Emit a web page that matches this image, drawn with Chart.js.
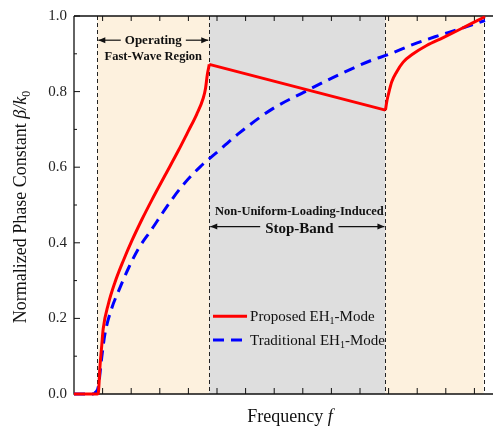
<!DOCTYPE html>
<html>
<head>
<meta charset="utf-8">
<script src="https://cdn.jsdelivr.net/npm/chart.js@4.4.1/dist/chart.umd.min.js"></script>
<style>
  html, body { margin: 0; padding: 0; background: #ffffff; }
  #c { display: block; }
</style>
</head>
<body>
<canvas id="c" width="493" height="434"></canvas>
<script>
// ---------------- data ----------------
const redFreq  = [0, 0.82, 0.85, 0.91, 0.97, 1.02, 1.20, 1.43, 1.72, 2.02, 2.37, 2.72, 3.18, 3.65, 4.00, 4.29, 4.52, 4.60, 4.66, 4.73, 10.89, 10.94, 10.99, 11.11, 11.28, 11.51, 11.86, 12.33, 12.91, 13.50, 14.08, 14.37];
const redBeta  = [0, 0, 0.003, 0.075, 0.128, 0.172, 0.238, 0.295, 0.352, 0.405, 0.461, 0.513, 0.578, 0.644, 0.696, 0.740, 0.783, 0.809, 0.844, 0.872, 0.751, 0.775, 0.792, 0.826, 0.852, 0.878, 0.900, 0.922, 0.943, 0.965, 0.987, 0.998];
const blueFreq = [0, 0.66, 0.73, 0.85, 0.97, 1.08, 1.32, 1.55, 1.90, 2.25, 2.72, 3.24, 3.77, 4.41, 4.93, 5.74, 6.91, 8.08, 9.24, 10.41, 10.99, 11.86, 12.62, 13.46, 14.37];
const blueBeta = [0, 0, 0.003, 0.019, 0.097, 0.158, 0.227, 0.271, 0.332, 0.384, 0.436, 0.495, 0.549, 0.601, 0.635, 0.688, 0.753, 0.800, 0.844, 0.883, 0.898, 0.925, 0.945, 0.965, 0.988];
const seriesLabels = ['Proposed EH1-Mode', 'Traditional EH1-Mode'];
// region boundaries (frequency units): fast-wave | stop-band | fast-wave
const regionEdges = [0.815, 4.73, 10.89, 14.32];
const yTickValues = [0, 0.2, 0.4, 0.6, 0.8, 1.0];
const yMinorValues = [0.1, 0.3, 0.5, 0.7, 0.9];
const xTickValues = [1, 2, 3, 4, 5, 6, 7, 8, 9, 10, 11, 12, 13, 14];
const xMax = 14.65;

// ---------------- styling ----------------
const SERIF = '"Liberation Serif", "Times New Roman", serif';
const BEIGE = '#fdf1de';
const GRAY = '#dedede';
const RED = '#ff0000';
const BLUE = '#0000ff';
const BLUE_DASH = [11, 7];

function toPoints(xs, ys) { return xs.map((x, i) => ({ x: x, y: ys[i] })); }
const redPts = toPoints(redFreq, redBeta);
// split the proposed curve at its two kinks (band edges) so each smooth piece is interpolated on its own
const iPeak = redFreq.indexOf(regionEdges[1]);
const iMin = redFreq.indexOf(regionEdges[2]);
const redPieces = [
  { pts: redPts.slice(0, iPeak + 1), mode: 'monotone' },
  { pts: redPts.slice(iPeak, iMin + 1), mode: 'linear' },
  { pts: redPts.slice(iMin), mode: 'monotone' }
];

function drawArrow(ctx, x1, x2, y, headAtStart) {
  ctx.save();
  ctx.strokeStyle = '#111';
  ctx.fillStyle = '#111';
  ctx.lineWidth = 1.2;
  ctx.beginPath();
  ctx.moveTo(x1, y); ctx.lineTo(x2, y); ctx.stroke();
  const tip = headAtStart ? x1 : x2;
  const dir = headAtStart ? 1 : -1;
  ctx.beginPath();
  ctx.moveTo(tip, y);
  ctx.lineTo(tip + dir * 7, y - 3);
  ctx.lineTo(tip + dir * 7, y + 3);
  ctx.closePath();
  ctx.fill();
  ctx.restore();
}

function drawSubText(ctx, x, baseY, parts) {
  let cx = x;
  parts.forEach(p => {
    ctx.font = p.font;
    ctx.fillText(p.t, cx, baseY + (p.dy || 0));
    cx += ctx.measureText(p.t).width;
  });
  return cx;
}
function measureParts(ctx, parts) {
  let w = 0;
  parts.forEach(p => { ctx.font = p.font; w += ctx.measureText(p.t).width; });
  return w;
}

const decorPlugin = {
  id: 'decor',
  beforeDatasetsDraw(chart) {
    const ctx = chart.ctx;
    const a = chart.chartArea;
    const xs = chart.scales.x, ys = chart.scales.y;
    const px = v => xs.getPixelForValue(v);
    const py = v => ys.getPixelForValue(v);
    ctx.save();
    const fills = [BEIGE, GRAY, BEIGE];
    for (let i = 0; i < 3; i++) {
      ctx.fillStyle = fills[i];
      ctx.fillRect(px(regionEdges[i]), a.top, px(regionEdges[i + 1]) - px(regionEdges[i]), a.bottom - a.top);
    }
    ctx.strokeStyle = '#222';
    ctx.lineWidth = 1;
    ctx.setLineDash([4, 3]);
    regionEdges.forEach(e => {
      const x = Math.round(px(e)) + 0.5;
      ctx.beginPath(); ctx.moveTo(x, a.top); ctx.lineTo(x, a.bottom); ctx.stroke();
    });
    ctx.setLineDash([]);
    ctx.strokeStyle = '#111';
    ctx.lineWidth = 1.3;
    ctx.beginPath();
    ctx.moveTo(a.left, a.top); ctx.lineTo(a.left, a.bottom); ctx.lineTo(a.right, a.bottom);
    ctx.moveTo(a.left, a.top); ctx.lineTo(a.right, a.top);
    ctx.stroke();
    ctx.lineWidth = 1;
    ctx.beginPath();
    yTickValues.forEach(v => { const y = py(v); ctx.moveTo(a.left, y); ctx.lineTo(a.left + 6, y); });
    yMinorValues.forEach(v => { const y = py(v); ctx.moveTo(a.left, y); ctx.lineTo(a.left + 3, y); });
    xTickValues.forEach(v => {
      const x = px(v);
      ctx.moveTo(x, a.bottom); ctx.lineTo(x, a.bottom - 6);
      ctx.moveTo(x, a.top); ctx.lineTo(x, a.top + 5);
    });
    ctx.stroke();
    ctx.restore();
  },
  afterDatasetsDraw(chart) {
    const ctx = chart.ctx;
    const a = chart.chartArea;
    const xs = chart.scales.x, ys = chart.scales.y;
    const px = v => xs.getPixelForValue(v);
    const py = v => ys.getPixelForValue(v);
    ctx.save();
    ctx.fillStyle = '#111';
    ctx.textBaseline = 'alphabetic';

    // --- Operating Fast-Wave Region ---
    const r1L = px(regionEdges[0]), r1R = px(regionEdges[1]);
    const c1 = (r1L + r1R) / 2;
    ctx.font = 'bold 13px ' + SERIF;
    ctx.textAlign = 'center';
    ctx.fillText('Operating', c1, py(0.925));
    const w1 = ctx.measureText('Operating').width;
    drawArrow(ctx, r1L + 1, c1 - w1 / 2 - 4, py(0.936), true);
    drawArrow(ctx, c1 + w1 / 2 + 4, r1R - 1, py(0.936), false);
    ctx.fillStyle = '#111';
    ctx.font = 'bold 12.5px ' + SERIF;
    ctx.fillText('Fast-Wave Region', c1, py(0.883));

    // --- Stop-band ---
    const r2L = px(regionEdges[1]), r2R = px(regionEdges[2]);
    const c2 = (r2L + r2R) / 2 + 2;
    ctx.font = 'bold 12.5px ' + SERIF;
    ctx.fillText('Non-Uniform-Loading-Induced', c2, py(0.474));
    ctx.font = 'bold 15px ' + SERIF;
    ctx.fillText('Stop-Band', c2, py(0.427));
    const w2 = ctx.measureText('Stop-Band').width;
    drawArrow(ctx, r2L + 1, c2 - w2 / 2 - 5, py(0.443), true);
    drawArrow(ctx, c2 + w2 / 2 + 5, r2R - 1, py(0.443), false);

    // --- legend ---
    const lx0 = px(4.86), lx1 = px(6.05);
    const rows = [
      { y: py(0.206), color: RED, dash: [], label: seriesLabels[0] },
      { y: py(0.143), color: BLUE, dash: BLUE_DASH, label: seriesLabels[1] }
    ];
    ctx.textAlign = 'left';
    rows.forEach(r => {
      ctx.save();
      ctx.strokeStyle = r.color; ctx.lineWidth = 3; ctx.setLineDash(r.dash);
      ctx.beginPath(); ctx.moveTo(lx0, r.y); ctx.lineTo(lx1, r.y); ctx.stroke();
      ctx.restore();
      ctx.fillStyle = '#111';
      const base = r.label.replace('EH1-Mode', '');
      drawSubText(ctx, lx1 + 3, r.y + 5, [
        { t: base + 'EH', font: '15px ' + SERIF },
        { t: '1', font: '10px ' + SERIF, dy: 3 },
        { t: '-Mode', font: '15px ' + SERIF }
      ]);
    });

    // --- x axis title ---
    const xParts = [
      { t: 'Frequency ', font: '18px ' + SERIF },
      { t: 'f', font: 'italic 18px ' + SERIF }
    ];
    const xw = measureParts(ctx, xParts);
    drawSubText(ctx, 290 - xw / 2, 422, xParts);

    // --- y axis title ---
    const yParts = [
      { t: 'Normalized Phase Constant ', font: '18px ' + SERIF },
      { t: '\u03B2/k', font: 'italic 18px ' + SERIF },
      { t: '0', font: '12px ' + SERIF, dy: 4 }
    ];
    const yw = measureParts(ctx, yParts);
    ctx.translate(26, (a.top + a.bottom) / 2 + 2);
    ctx.rotate(-Math.PI / 2);
    drawSubText(ctx, -yw / 2, 0, yParts);
    ctx.restore();
  }
};

const redDatasets = redPieces.map((p, i) => ({
  label: i === 0 ? seriesLabels[0] : seriesLabels[0] + ' (cont.)',
  data: p.pts,
  borderColor: RED,
  backgroundColor: RED,
  borderWidth: 3,
  pointRadius: 0,
  cubicInterpolationMode: p.mode === 'monotone' ? 'monotone' : 'default',
  tension: 0,
  fill: false,
  clip: false,
  order: 1
}));

new Chart(document.getElementById('c'), {
  type: 'line',
  data: {
    datasets: redDatasets.concat([
      {
        label: seriesLabels[1],
        data: toPoints(blueFreq, blueBeta),
        borderColor: BLUE,
        backgroundColor: BLUE,
        borderWidth: 3,
        borderDash: BLUE_DASH,
        pointRadius: 0,
        cubicInterpolationMode: 'monotone',
        fill: false,
        clip: false,
        order: 2
      }
    ])
  },
  options: {
    responsive: false,
    animation: false,
    devicePixelRatio: 1,
    layout: { padding: { top: 10, right: 0, left: 0, bottom: 0 } },
    plugins: {
      legend: { display: false },
      tooltip: { enabled: false },
      title: { display: false }
    },
    scales: {
      x: {
        type: 'linear',
        min: 0,
        max: xMax,
        ticks: { display: false },
        grid: { display: false },
        border: { display: false },
        afterFit(scale) { scale.height = 40; }
      },
      y: {
        type: 'linear',
        min: 0,
        max: 1,
        afterBuildTicks(scale) { scale.ticks = yTickValues.map(v => ({ value: v })); },
        ticks: {
          callback: v => Number(v).toFixed(1),
          font: { family: SERIF, size: 15 },
          color: '#222',
          padding: 7
        },
        grid: { display: false, drawTicks: false },
        border: { display: false },
        afterFit(scale) { scale.width = 74; }
      }
    }
  },
  plugins: [decorPlugin]
});
</script>
</body>
</html>
